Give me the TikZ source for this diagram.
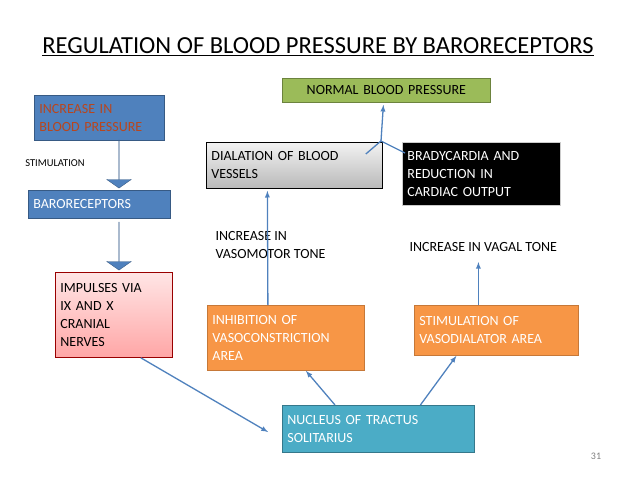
\documentclass[tikz,border=0pt]{standalone}
\usepackage{fontspec}
\setmainfont{Carlito}
\usetikzlibrary{shapes.arrows,calc}
\definecolor{bl}{HTML}{4F81BD}
\definecolor{gr}{HTML}{9BBB59}
\definecolor{org}{HTML}{F79646}
\definecolor{teal}{HTML}{4BACC6}
\definecolor{txtred}{HTML}{B8461E}
\begin{document}
\begin{tikzpicture}[x=1pt,y=-1pt,
 bx/.style={rectangle,draw,line width=0.8pt,inner sep=4pt,font=\fontsize{14}{18}\selectfont,align=left,anchor=north west},
 ar/.style={draw=bl,line width=1.3pt,-latex},
 barr/.style={single arrow,draw=bl!70!black,fill=bl,shape border rotate=270,minimum height=48,minimum width=18,single arrow head extend=12pt,single arrow tip angle=110,inner sep=0pt},
 lab/.style={font=\fontsize{14}{18}\selectfont,align=left,anchor=north west}]
\useasboundingbox (0,0) rectangle (638,479);
\node[font=\fontsize{24.5}{28}\selectfont] (title) at (318,47) {\underline{REGULATION OF BLOOD PRESSURE BY BARORECEPTORS}};
\node[bx,draw=bl!70!black,fill=bl,text=txtred,minimum width=130,minimum height=45,text width=120] (inc) at (34,95) {INCREASE IN\\BLOOD PRESSURE};
\node[font=\fontsize{10.5}{12}\selectfont] (stim) at (55,163) {STIMULATION};
\node[bx,draw=bl!70!black,fill=bl,text=white,minimum width=142,minimum height=28,text width=132] (baro) at (28,190) {BARORECEPTORS};
\node[bx,draw=red!60!black,top color=red!10,bottom color=red!35,minimum width=117,minimum height=85,text width=107] (imp) at (55,272) {IMPULSES VIA\\IX AND X\\CRANIAL\\NERVES};
\node[bx,draw=gr!70!black,fill=gr,minimum width=208,minimum height=24,align=center,text width=198] (nor) at (282,78) {NORMAL BLOOD PRESSURE};
\node[bx,draw=black,top color=gray!10,bottom color=gray!55,minimum width=176,minimum height=46,text width=166] (dil) at (206,142) {DIALATION OF BLOOD\\VESSELS};
\node[bx,draw=gray!40,fill=black,text=white,minimum width=158,minimum height=63,text width=148] (bra) at (402,142) {BRADYCARDIA AND\\REDUCTION IN\\CARDIAC OUTPUT};
\node[lab] (vmt) at (212,228) {INCREASE IN\\VASOMOTOR TONE};
\node[lab] (vgt) at (406,239) {INCREASE IN VAGAL TONE};
\node[bx,draw=org!80!black,fill=org,text=white,minimum width=157,minimum height=65,text width=147] (inh) at (207,305) {INHIBITION OF\\VASOCONSTRICTION\\AREA};
\node[bx,draw=org!80!black,fill=org,text=white,minimum width=164,minimum height=50,text width=154] (sva) at (414,305) {STIMULATION OF\\VASODIALATOR AREA};
\node[bx,draw=teal!70!black,fill=teal,text=white,minimum width=192,minimum height=47,text width=182] (nts) at (282,405) {NUCLEUS OF TRACTUS\\SOLITARIUS};
\node[font=\fontsize{10}{12}\selectfont,text=gray] (pg) at (596,456) {31};
% block arrows
\node[barr] (a1) at (119,164) {};
\node[barr] (a2) at (119,246) {};
% connectors
\coordinate (j) at (381,141);
\coordinate (e1) at (268,432);
\draw[ar] ($(imp.south east)+(-32,0)$) -- (e1);
\draw[ar] ($(nts.north west)+(53,0)$) -- ($(inh.south)+(20,0)$);
\draw[ar] ($(nts.north)+(42,0)$) -- ($(sva.south)+(-40,0)$);
\draw[ar] ($(inh.north)+(-18,0)$) -- ($(dil.south)+(-27,2)$);
\draw[ar] ($(sva.north)+(-18,0)$) -- ($(sva.north)+(-18,-43)$);
\draw[draw=bl,line width=1.3pt] ($(dil.north east)+(-17,12)$) -- (j) -- ($(bra.north west)+(3,11)$);
\draw[ar] (j) -- ($(nor.south)+(-3,2)$);
\end{tikzpicture}
\end{document}
